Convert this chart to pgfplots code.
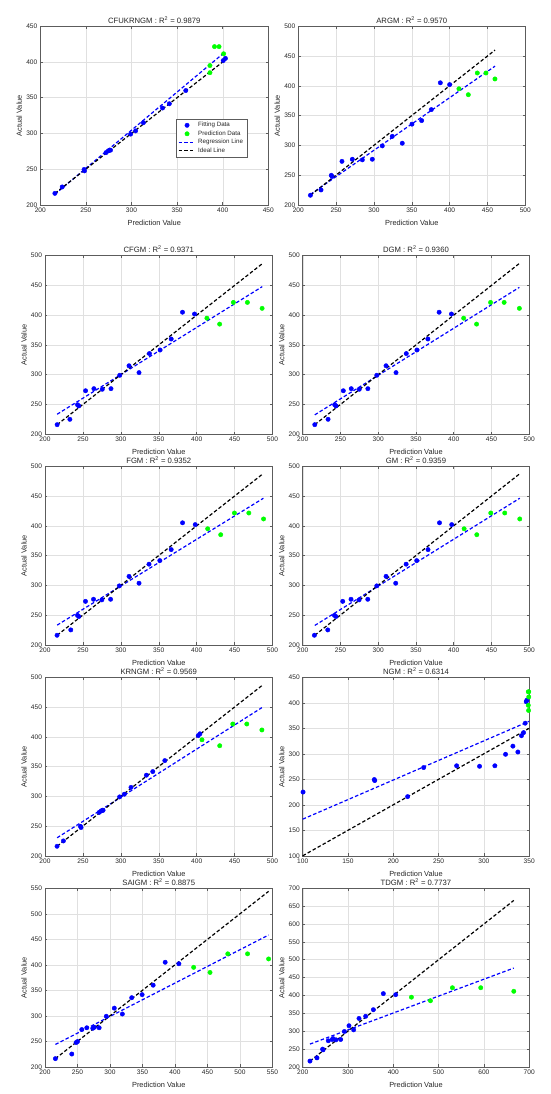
\documentclass[border=0pt]{standalone}
\usepackage{fontspec}
\setmainfont{Liberation Sans}
\usepackage{pgfplots}
\pgfplotsset{compat=1.18}
\definecolor{mgreen}{rgb}{0,1,0}
\definecolor{axgray}{rgb}{0.15,0.15,0.15}
\pgfplotsset{
  every axis title shift=0pt,
  panel/.style={
    scale only axis, height=178.5pt, clip=false,
    axis line style={draw=axgray!75, line width=0.5pt},
    tick style={draw=axgray!75, line width=0.5pt},
    major tick length=2.3pt, tick align=inside,
    grid=major, major grid style={draw=black!12, line width=0.4pt},
    ticklabel style={font=\fontsize{6.6}{7}\selectfont, text=axgray},
    /pgf/number format/assume math mode=true,
    /pgf/number format/1000 sep={},
    xticklabel style={inner sep=0pt, yshift=-2.8pt, anchor=north},
    yticklabel style={inner sep=0pt, xshift=-2.8pt, anchor=east},
    xlabel={Prediction Value}, ylabel={Actual Value},
    label style={font=\fontsize{7.4}{8}\selectfont, text=axgray},
    xlabel style={at={(axis description cs:0.5,0)}, anchor=base, yshift=-20.3pt, inner sep=0pt},
    ylabel style={at={(axis description cs:-0.0925,0.5)}, anchor=center, inner sep=0pt},
    title style={font=\fontsize{7.7}{8}\selectfont, text=axgray, at={(axis description cs:0.5,1)}, anchor=base, yshift=3pt, inner sep=0pt},
  },
  fitp/.style={only marks, mark=*, mark size=2.2pt, blue, mark options={fill=blue, draw=blue}},
  predp/.style={only marks, mark=*, mark size=2.2pt, mgreen, mark options={fill=mgreen, draw=mgreen}},
  regl/.style={blue, line width=1.2pt, dash pattern=on 3.5pt off 2.2pt, mark=none},
  ideall/.style={black, line width=1.2pt, dash pattern=on 3.5pt off 2.2pt, mark=none},
}
\begin{document}
\begin{tikzpicture}
\path[use as bounding box] (0,0) rectangle (550pt,1094pt);

% 1 CFUKRNGM
\begin{axis}[panel, at={(40.3pt,1067.7pt)}, anchor=north west, width=228pt,
  xmin=200, xmax=450, ymin=200, ymax=450, xtick={200,250,...,450}, ytick={200,250,...,450},
  title={CFUKRNGM : R\textsuperscript{2} = 0.9879},
  legend style={at={(axis description cs:0.594,0.480)}, anchor=north west, font=\fontsize{6.2}{7}\selectfont, draw=axgray!75, line width=0.4pt, inner xsep=2pt, inner ysep=1pt, row sep=-1.5pt, cells={anchor=west}, text=axgray}]
\addplot[fitp] coordinates {(216,216) (224,225) (248,249.5) (248.5,247.5) (272,273) (276,276.5) (274.5,275.5) (277,276.5) (299,299) (313,315) (304.5,303.5) (334,335.5) (341.5,341.5) (359.5,360) (403,405) (400.6,402)};
\addplot[predp] coordinates {(386,395) (386,385) (391,421.5) (396,421.5) (401,411.5)};
\addplot[regl] coordinates {(216,214.8) (402,413.4)};
\addplot[ideall] coordinates {(216,216) (402,402)};
\legend{Fitting Data, Prediction Data, Regression Line, Ideal Line}
\end{axis}

% 2 ARGM
\begin{axis}[panel, at={(298.3pt,1067.7pt)}, anchor=north west, width=227pt,
  xmin=200, xmax=500, ymin=200, ymax=500, xtick={200,250,...,500}, ytick={200,250,...,500},
  title={ARGM : R\textsuperscript{2} = 0.9570}]
\addplot[fitp] coordinates {(216,216) (230,225) (243.6,249.5) (244.5,247.5) (257.7,273) (271.4,276.5) (284.6,275.5) (297.8,276.5) (311,299) (324.2,315) (337.4,303.5) (350.2,335.5) (363,341.5) (375.8,360) (387.7,405) (400,402)};
\addplot[predp] coordinates {(412.3,395) (424.7,385) (436.6,421.5) (448,421.5) (459.9,411.5)};
\addplot[regl] coordinates {(216,217.4) (460,433)};
\addplot[ideall] coordinates {(216,216) (460,460)};
\end{axis}

% 3 CFGM
\begin{axis}[panel, at={(45pt,838.3pt)}, anchor=north west, width=227.5pt,
  xmin=200, xmax=500, ymin=200, ymax=500, xtick={200,250,...,500}, ytick={200,250,...,500},
  title={CFGM : R\textsuperscript{2} = 0.9371}]
\addplot[fitp] coordinates {(216,216) (232.8,225) (242.9,249.5) (244.5,247.5) (253.5,273) (264.5,276.5) (275.5,275.5) (287,276.5) (298.5,299) (310.8,315) (324,303.5) (337.7,335.5) (351.8,341.5) (366.4,360) (381.3,405) (397.2,402)};
\addplot[predp] coordinates {(413.5,395) (430.3,385) (448.4,421.5) (466.9,421.5) (486.3,411.5)};
\addplot[regl] coordinates {(216,233.5) (486.5,448)};
\addplot[ideall] coordinates {(216,216) (486.5,486.5)};
\end{axis}

% 4 DGM
\begin{axis}[panel, at={(302.7pt,838.3pt)}, anchor=north west, width=226.5pt,
  xmin=200, xmax=500, ymin=200, ymax=500, xtick={200,250,...,500}, ytick={200,250,...,500},
  title={DGM : R\textsuperscript{2} = 0.9360}]
\addplot[fitp] coordinates {(216,216) (233.6,225) (242.4,249.5) (244.1,247.5) (253.8,273) (264.3,276.5) (274.9,275.5) (286.3,276.5) (298.1,299) (310.4,315) (323.6,303.5) (337.2,335.5) (351.3,341.5) (365.8,360) (380.7,405) (397,402)};
\addplot[predp] coordinates {(413.2,395) (430.3,385) (448.8,421.5) (466.8,421.5) (487,411.5)};
\addplot[regl] coordinates {(216,232.5) (487,446.8)};
\addplot[ideall] coordinates {(216,216) (487,487)};
\end{axis}

% 5 FGM
\begin{axis}[panel, at={(45pt,627.7pt)}, anchor=north west, width=227.5pt,
  xmin=200, xmax=500, ymin=200, ymax=500, xtick={200,250,...,500}, ytick={200,250,...,500},
  title={FGM : R\textsuperscript{2} = 0.9352}]
\addplot[fitp] coordinates {(215.9,216) (234,225) (242.8,249.5) (244.6,247.5) (253.4,273) (264,276.5) (275,275.5) (286.5,276.5) (298,299) (310.8,315) (324,303.5) (337.2,335.5) (351.4,341.5) (366.4,360) (381.4,405) (398.1,402)};
\addplot[predp] coordinates {(414.5,395) (431.7,385) (449.8,421.5) (468.8,421.5) (488.2,411.5)};
\addplot[regl] coordinates {(216,233) (488,446.3)};
\addplot[ideall] coordinates {(216,216) (488,488)};
\end{axis}

% 6 GM
\begin{axis}[panel, at={(302.7pt,627.7pt)}, anchor=north west, width=226.5pt,
  xmin=200, xmax=500, ymin=200, ymax=500, xtick={200,250,...,500}, ytick={200,250,...,500},
  title={GM : R\textsuperscript{2} = 0.9359}]
\addplot[fitp] coordinates {(215.5,216) (233.2,225) (242,249.5) (244,247.5) (253,273) (264,276.5) (274.7,275.5) (286.2,276.5) (298.1,299) (310.4,315) (323.2,303.5) (337,335.5) (351,341.5) (366,360) (381.2,405) (397.4,402)};
\addplot[predp] coordinates {(413.8,395) (430.6,385) (449.1,421.5) (467.6,421.5) (487.5,411.5)};
\addplot[regl] coordinates {(216,232.5) (487.5,446.3)};
\addplot[ideall] coordinates {(216,216) (487.5,487.5)};
\end{axis}

% 7 KRNGM
\begin{axis}[panel, at={(45pt,416.7pt)}, anchor=north west, width=227.5pt,
  xmin=200, xmax=500, ymin=200, ymax=500, xtick={200,250,...,500}, ytick={200,250,...,500},
  title={KRNGM : R\textsuperscript{2} = 0.9569}]
\addplot[fitp] coordinates {(215.9,216) (224.3,225) (246.8,249.5) (247.5,247.5) (271.5,273) (275.9,276.5) (274.1,275.5) (276.6,276.5) (298.4,299) (313.4,315) (304.6,303.5) (333.7,335.5) (342.1,341.5) (358,360) (404.3,405) (402.1,402)};
\addplot[predp] coordinates {(407,395) (430.4,385) (447.6,421.5) (466.1,421.5) (486,411.5)};
\addplot[regl] coordinates {(216,230.3) (486,449)};
\addplot[ideall] coordinates {(216,216) (486,486)};
\end{axis}

% 8 NGM
\begin{axis}[panel, at={(302.7pt,416.7pt)}, anchor=north west, width=226.5pt,
  xmin=100, xmax=350, ymin=100, ymax=450, xtick={100,150,...,350}, ytick={100,150,...,450},
  title={NGM : R\textsuperscript{2} = 0.6314}]
\addplot[fitp] coordinates {(215.8,216) (100.4,225) (179,249.5) (179.5,247.5) (233.5,273) (269.9,276.5) (295.2,275.5) (312.1,276.5) (323.9,299) (332,315) (337.5,303.5) (341.5,335.5) (343.8,341.5) (345.6,360) (347.4,405) (346.7,402)};
\addplot[predp] coordinates {(349,395) (349.3,385) (349,421.5) (349.5,421.5) (349.5,411.5)};
\addplot[regl] coordinates {(100,171.8) (350,363.8)};
\addplot[ideall] coordinates {(100,100) (350,350)};
\end{axis}

% 9 SAIGM
\begin{axis}[panel, at={(45pt,205.7pt)}, anchor=north west, width=227.5pt,
  xmin=200, xmax=550, ymin=200, ymax=550, xtick={200,250,...,550}, ytick={200,250,...,550},
  title={SAIGM : R\textsuperscript{2} = 0.8875}]
\addplot[fitp] coordinates {(216,216) (241.2,225) (250,249.5) (247.9,247.5) (256.6,273) (264.3,276.5) (273.5,275.5) (276,277.5) (283.3,276.5) (294.3,299) (306.6,315) (319,303.5) (333.4,335.5) (349.4,341.5) (366.4,360) (384.9,405) (406,402)};
\addplot[predp] coordinates {(428.7,395) (453.9,385) (481.2,421.5) (511.6,421.5) (544,411.5)};
\addplot[regl] coordinates {(216,243.8) (544,458.4)};
\addplot[ideall] coordinates {(216,216) (544,544)};
\end{axis}

% 10 TDGM
\begin{axis}[panel, at={(302.7pt,205.7pt)}, anchor=north west, width=226.5pt,
  xmin=200, xmax=700, ymin=200, ymax=700, xtick={200,300,...,700}, ytick={200,250,...,700},
  title={TDGM : R\textsuperscript{2} = 0.7737}]
\addplot[fitp] coordinates {(216,216) (231.5,225) (244,249.5) (245,247.5) (256.5,273) (265.3,276.5) (267,279) (273.5,275.5) (283.8,276.5) (292,299) (302.2,315) (312.5,303.5) (324.3,335.5) (339,341.5) (356,360) (378,405) (405.3,402)};
\addplot[predp] coordinates {(440,395) (482,385) (530.5,421.5) (593,421.5) (666,411.5)};
\addplot[regl] coordinates {(216,263.6) (666,476.6)};
\addplot[ideall] coordinates {(216,216) (666,666)};
\end{axis}
\end{tikzpicture}
\end{document}
